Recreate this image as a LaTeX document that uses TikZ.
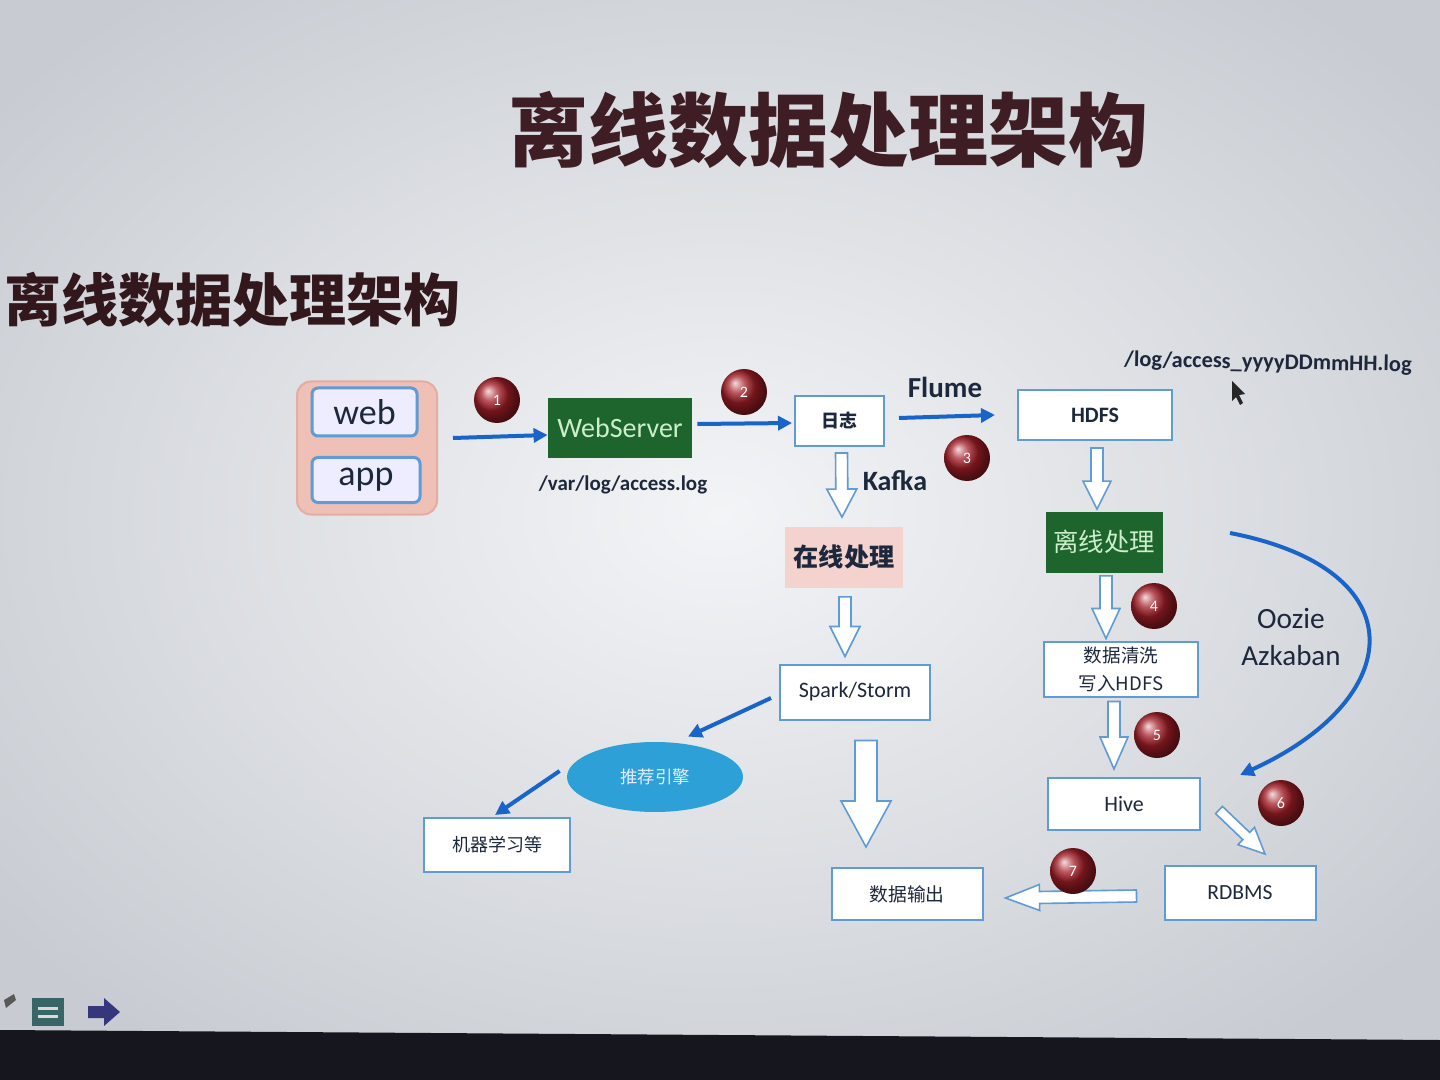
\documentclass[tikz,border=0pt]{standalone}
\usepackage{fontspec}
\setmainfont{Carlito}
\newfontfamily\cjk{Noto Sans CJK SC}
\usetikzlibrary{calc,shapes.geometric,arrows.meta,shadings}
\definecolor{boxblue}{RGB}{95,155,215}
\definecolor{arrblue}{RGB}{25,100,200}
\definecolor{txt}{RGB}{30,40,60}
\definecolor{numred}{RGB}{165,30,40}
\definecolor{titlec}{RGB}{62,30,36}
\definecolor{pinkbg}{RGB}{238,192,182}
\definecolor{pinkbd}{RGB}{228,172,162}
\definecolor{pinkon}{RGB}{244,210,206}
\definecolor{grn}{RGB}{30,100,45}
\definecolor{grntxt}{RGB}{205,238,205}
\definecolor{engblue}{RGB}{45,160,215}
\definecolor{bgin}{RGB}{243,244,246}
\definecolor{bgout}{RGB}{200,204,210}
\definecolor{band}{RGB}{22,22,30}
\tikzset{
  bbox/.style={draw=boxblue, line width=1pt, fill=white, inner sep=0pt, align=center, text=txt},
  barrow/.style={draw=arrblue, line width=2pt, -{Triangle[length=7pt,width=7pt]}},
  hollow/.style={draw=boxblue, line width=0.8pt, fill=white, line join=miter},
  num/.style={circle, minimum size=23pt, inner sep=0pt, shading=ball, ball color=numred, text=white, font=\fontsize{8}{8}\selectfont},
  lbl/.style={inner sep=0pt, text=txt},
}
\newcommand{\harrow}[5]{%
  \coordinate (ha-s) at (#1);
  \coordinate (ha-t) at (#2);
  \coordinate (ha-h) at ($(ha-t)!#5!(ha-s)$);
  \draw[hollow] ($(ha-s)!#3!90:(ha-t)$) -- ($(ha-h)!#3!90:(ha-t)$) -- ($(ha-h)!#4!90:(ha-t)$) -- (ha-t)
     -- ($(ha-h)!#4!-90:(ha-t)$) -- ($(ha-h)!#3!-90:(ha-t)$) -- ($(ha-s)!#3!-90:(ha-t)$) -- cycle;
}
\begin{document}
\begin{tikzpicture}[x=0.5pt,y=-0.5pt]
\useasboundingbox (0,0) rectangle (1440,1080);
\clip (0,0) rectangle (1440,1080);
% background (screen photo)
\shade[inner color=bgin, outer color=bgout] (-200,-150) rectangle (1640,1180);
\fill[band] (0,1030) -- (1440,1040) -- (1440,1080) -- (0,1080) -- cycle;
% toolbar icons
\fill[gray!70!black] (4,1000) -- (14,994) -- (16,1000) -- (6,1008) -- cycle;
\fill[gray!55!teal!80!black] (32,998) rectangle (64,1026);
\draw[white!70!gray, line width=1.5pt] (38,1008) -- (58,1008) (38,1016) -- (58,1016);
\fill[gray!60!blue!70!black] (88,1006) -- (104,1006) -- (104,998) -- (120,1012) -- (104,1026) -- (104,1018) -- (88,1018) -- cycle;

% titles
\node[text=titlec] (title) at (828,130) {\cjk\bfseries\fontsize{40}{40}\selectfont 离线数据处理架构};
\node[text=titlec!80!black] (subtitle) at (232,300) {\cjk\bfseries\fontsize{28.5}{28.5}\selectfont 离线数据处理架构};

% web / app
\node[draw=pinkbd, fill=pinkbg, rounded corners=7pt, minimum width=70pt, minimum height=66.5pt, line width=1pt] (webapp) at (367,448) {};
\node[bbox, rounded corners=3pt, line width=1.5pt, fill=white!93!blue, minimum width=52.5pt, minimum height=24pt, font=\fontsize{18}{18}\selectfont] (web) at (364.5,412) {web};
\node[bbox, rounded corners=3pt, line width=1.5pt, fill=white!93!blue, minimum width=54pt, minimum height=22.5pt, font=\fontsize{18}{18}\selectfont] (app) at (366,480) {app};

% main nodes
\node[fill=grn, text=grntxt, minimum width=72pt, minimum height=30pt, inner sep=0pt, font=\fontsize{14}{14}\selectfont] (ws) at (620,428) {WebServer};
\node[bbox, minimum width=44.5pt, minimum height=25pt, font=\cjk\bfseries\fontsize{9}{9}\selectfont] (rizhi) at (839.5,421) {日志};
\node[bbox, minimum width=77pt, minimum height=25pt, font=\bfseries\fontsize{11}{11}\selectfont] (hdfs) at (1095,415) {HDFS};
\node[fill=pinkon, text=txt, minimum width=59pt, minimum height=30.5pt, inner sep=0pt, font=\cjk\bfseries\fontsize{12.6}{12.6}\selectfont] (online) at (844,557) {在线处理};
\node[bbox, minimum width=75pt, minimum height=27.5pt, font=\fontsize{11}{11}\selectfont] (spark) at (855,692) {Spark/Storm};
\node[ellipse, fill=engblue, text=white!92!blue, minimum width=88pt, minimum height=35pt, inner sep=0pt, font=\cjk\fontsize{8.7}{8.7}\selectfont] (eng) at (655,777) {推荐引擎};
\node[bbox, minimum width=73pt, minimum height=27pt, font=\cjk\fontsize{9}{9}\selectfont] (ml) at (497,845) {机器学习等};
\node[bbox, minimum width=75.5pt, minimum height=26pt, font=\cjk\fontsize{9.4}{9.4}\selectfont] (out) at (907,894) {数据输出};
\node[fill=grn, text=grntxt, minimum width=58.5pt, minimum height=30.5pt, inner sep=0pt, font=\cjk\fontsize{12.7}{12.7}\selectfont] (offline) at (1104,542) {离线处理};
\node[bbox, minimum width=77pt, minimum height=27.5pt, font=\cjk\fontsize{9.3}{14}\selectfont] (clean) at (1121,669) {数据清洗\\写入HDFS};
\node[bbox, minimum width=76pt, minimum height=26pt, font=\fontsize{11}{11}\selectfont] (hive) at (1124,804) {Hive};
\node[bbox, minimum width=75.5pt, minimum height=27pt, font=\fontsize{10.8}{10.8}\selectfont] (rdbms) at (1240,893) {RDBMS};

% labels
\node[lbl, font=\bfseries\fontsize{10.5}{10.5}\selectfont] (varlog) at (623,485) {/var/log/access.log};
\node[lbl, font=\bfseries\fontsize{14.5}{14.5}\selectfont] (flume) at (945,387) {Flume};
\node[lbl, font=\bfseries\fontsize{14}{14}\selectfont] (kafka) at (895,481) {Kafka};
\node[lbl, font=\bfseries\fontsize{11.2}{11.2}\selectfont, rotate=-1] (hdfslog) at (1268,363) {/log/access\_yyyyDDmmHH.log};
\node[lbl, font=\fontsize{14.7}{14.7}\selectfont] (oozie) at (1291,618) {Oozie};
\node[lbl, font=\fontsize{14.5}{14.5}\selectfont] (azk) at (1291,656) {Azkaban};

% mouse cursor
\fill[black!85] (1232,381) -- (1232,401) -- (1236,397) -- (1240,405) -- (1243,403) -- (1239,395) -- (1245,394) -- cycle;

% blue arrows
\draw[barrow] ($(webapp.east)+(15,-10)$) -- ($(ws.west)+(0,7)$);
\draw[barrow] ($(ws.east)+(5,-4)$) -- ($(rizhi.west)+(-2,2)$);
\draw[barrow] ($(rizhi.east)+(14,-3)$) -- ($(hdfs.west)+(-22,0)$);
\draw[barrow] ($(spark.west)+(-8,6)$) -- ($(eng.north)+(33,-5)$);
\draw[barrow] ($(eng.west)+(-7,-6)$) -- ($(ml.north)+(-2,-2)$);
\coordinate (oz1) at (1230,533);
\coordinate (oz2) at (1240,775);
\draw[barrow] (oz1) .. controls (1420,570) and (1405,700) .. (oz2);

% hollow arrows
\harrow{$(rizhi.south)+(2,6)$}{$(online.north)+(-2,-9)$}{3pt}{7.5pt}{14pt}
\harrow{$(online.south)+(1,9)$}{$(spark.north)+(-10,-7)$}{3pt}{7.5pt}{15pt}
\harrow{$(spark.south)+(11,20)$}{$(out.north)+(-41,-20)$}{5.5pt}{12.5pt}{23pt}
\harrow{$(hdfs.south)+(2,7)$}{$(offline.north)+(-7,-2)$}{3pt}{7pt}{14pt}
\harrow{$(offline.south)+(2,3)$}{$(clean.north)+(-15,-2)$}{3pt}{7pt}{15pt}
\harrow{$(clean.south)+(-7,4)$}{$(hive.north)+(-10,-8)$}{3pt}{7pt}{16pt}
\harrow{$(hive.east)+(18,6)$}{$(rdbms.north)+(25,-11)$}{2.5pt}{6pt}{13pt}
\harrow{$(rdbms.west)+(-27,3)$}{$(out.east)+(22,4)$}{3pt}{6.5pt}{17pt}

% numbered steps
\node[num] (n1) at (497,400) {1};
\node[num] (n2) at (744,392) {2};
\node[num] (n3) at (967,458) {3};
\node[num] (n4) at (1154,606) {4};
\node[num] (n5) at (1157,735) {5};
\node[num] (n6) at (1281,803) {6};
\node[num] (n7) at (1073,871) {7};
\end{tikzpicture}
\end{document}
